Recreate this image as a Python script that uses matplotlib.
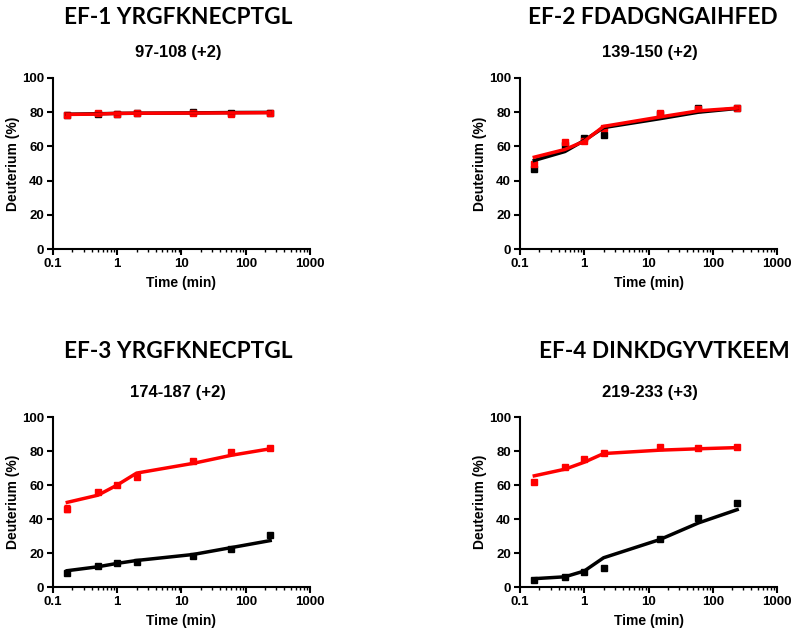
import matplotlib
matplotlib.use("Agg")
import matplotlib.pyplot as plt
from matplotlib.ticker import LogLocator, NullFormatter, FixedLocator, FixedFormatter
import numpy as np

time_min = [0.167, 0.5, 1, 2, 15, 60, 240]

titles = ["EF-1 YRGFKNECPTGL", "EF-2 FDADGNGAIHFED", "EF-3 YRGFKNECPTGL", "EF-4 DINKDGYVTKEEM"]
subtitles = ["97-108 (+2)", "139-150 (+2)", "174-187 (+2)", "219-233 (+3)"]

# black series: measured points and fitted curve
ef1_black_pts = [78.2, 79.2, 79.0, 79.3, 80.0, 79.6, 79.6]
ef1_black_fit = [78.8, 79.1, 79.3, 79.4, 79.6, 79.8, 79.9]
ef1_red_pts = [78.6, 79.3, 79.1, 79.4, 79.6, 79.2, 79.7]
ef1_red_fit = [78.7, 78.9, 79.3, 79.4, 79.5, 79.6, 79.7]

ef2_black_pts = [46.7, 60.7, 65.2, 66.8, 79.0, 82.2, 82.4]
ef2_black_fit = [51.8, 57.0, 63.5, 71.0, 76.2, 80.0, 82.2]
ef2_red_pts = [49.6, 62.3, 63.1, 71.0, 79.5, 82.0, 82.4]
ef2_red_fit = [53.7, 58.2, 63.0, 71.7, 77.2, 80.8, 82.4]

ef3_black_pts = [8.4, 12.3, 13.9, 14.8, 18.2, 22.5, 30.5]
ef3_black_fit = [9.6, 11.9, 13.9, 15.6, 19.1, 23.2, 27.3]
ef3_red_pts = [46.0, 56.0, 60.2, 64.6, 74.4, 79.3, 82.0]
ef3_red_err = [2.0, 1.0, 0.5, 1.0, 1.0, 1.0, 0.5]
ef3_red_fit = [49.8, 54.0, 60.0, 67.0, 72.7, 77.5, 81.3]

ef4_black_pts = [3.9, 5.7, 9.0, 11.1, 28.3, 40.6, 49.6]
ef4_black_fit = [4.9, 6.0, 9.4, 17.2, 27.9, 37.7, 45.5]
ef4_red_pts = [61.7, 70.7, 75.2, 78.7, 82.4, 81.6, 82.4]
ef4_red_fit = [65.4, 69.3, 73.4, 78.5, 80.5, 81.3, 82.0]

panels = [
    (ef1_black_pts, ef1_black_fit, ef1_red_pts, ef1_red_fit, None),
    (ef2_black_pts, ef2_black_fit, ef2_red_pts, ef2_red_fit, None),
    (ef3_black_pts, ef3_black_fit, ef3_red_pts, ef3_red_fit, ef3_red_err),
    (ef4_black_pts, ef4_black_fit, ef4_red_pts, ef4_red_fit, None),
]

fig = plt.figure(figsize=(8, 6.36), dpi=100)
W, H = 800, 636
# axes boxes in pixels: (left, top, right, bottom)
boxes = [(53, 78, 310, 249), (520, 78, 777, 249), (53, 417, 310, 587), (520, 417, 777, 587)]
title_pos = [(178, 17), (653, 17), (178, 352), (664, 352)]
sub_pos = [(178, 53), (650, 53), (178, 392), (650, 392)]

red = "#ff0000"
for i, (bp, bf, rp, rf, rerr) in enumerate(panels):
    l, t, r, b = boxes[i]
    ax = fig.add_axes([l / W, 1 - b / H, (r - l) / W, (b - t) / H])
    ax.plot(time_min, bp, "s", color="black", ms=5, zorder=3)
    if rerr is not None:
        ax.errorbar(time_min, rp, yerr=rerr, fmt="s", color=red, ms=5, capsize=2, elinewidth=1.5, zorder=3)
    else:
        ax.plot(time_min, rp, "s", color=red, ms=5, zorder=3)
    ax.plot(time_min, bf, "-", color="black", lw=2.5, zorder=4)
    ax.plot(time_min, rf, "-", color=red, lw=2.5, zorder=5)
    ax.set_xscale("log")
    ax.set_xlim(0.1, 1000)
    ax.set_ylim(0, 100)
    ax.set_yticks([0, 20, 40, 60, 80, 100])
    ax.xaxis.set_major_locator(FixedLocator([0.1, 1, 10, 100, 1000]))
    ax.xaxis.set_major_formatter(FixedFormatter(["0.1", "1", "10", "100", "1000"]))
    ax.xaxis.set_minor_locator(LogLocator(base=10, subs=np.arange(2, 10)))
    ax.xaxis.set_minor_formatter(NullFormatter())
    for s in ["top", "right"]:
        ax.spines[s].set_visible(False)
    for s in ["left", "bottom"]:
        ax.spines[s].set_linewidth(1.5)
    ax.tick_params(which="major", direction="out", length=4, width=1.5, labelsize=9.5, pad=2.5)
    ax.tick_params(which="minor", direction="out", length=2.5, width=1.0)
    for lab in ax.get_xticklabels() + ax.get_yticklabels():
        lab.set_fontweight("bold")
        lab.set_family("Liberation Sans")
    ax.set_xlabel("Time (min)", fontsize=10, fontweight="bold", family="Liberation Sans", labelpad=4)
    ax.set_ylabel("Deuterium (%)", fontsize=10, fontweight="bold", family="Liberation Sans", labelpad=1.5)
    for line in ax.lines:
        line.set_clip_on(False)

    tx, ty = title_pos[i]
    fig.text(tx / W, 1 - ty / H, titles[i], ha="center", va="center", fontsize=16.3,
             fontweight="bold", family="Lato")
    sx, sy = sub_pos[i]
    fig.text(sx / W, 1 - sy / H, subtitles[i], ha="center", va="center", fontsize=12,
             fontweight="bold", family="Liberation Sans")

fig.savefig("out.png", dpi=100)
